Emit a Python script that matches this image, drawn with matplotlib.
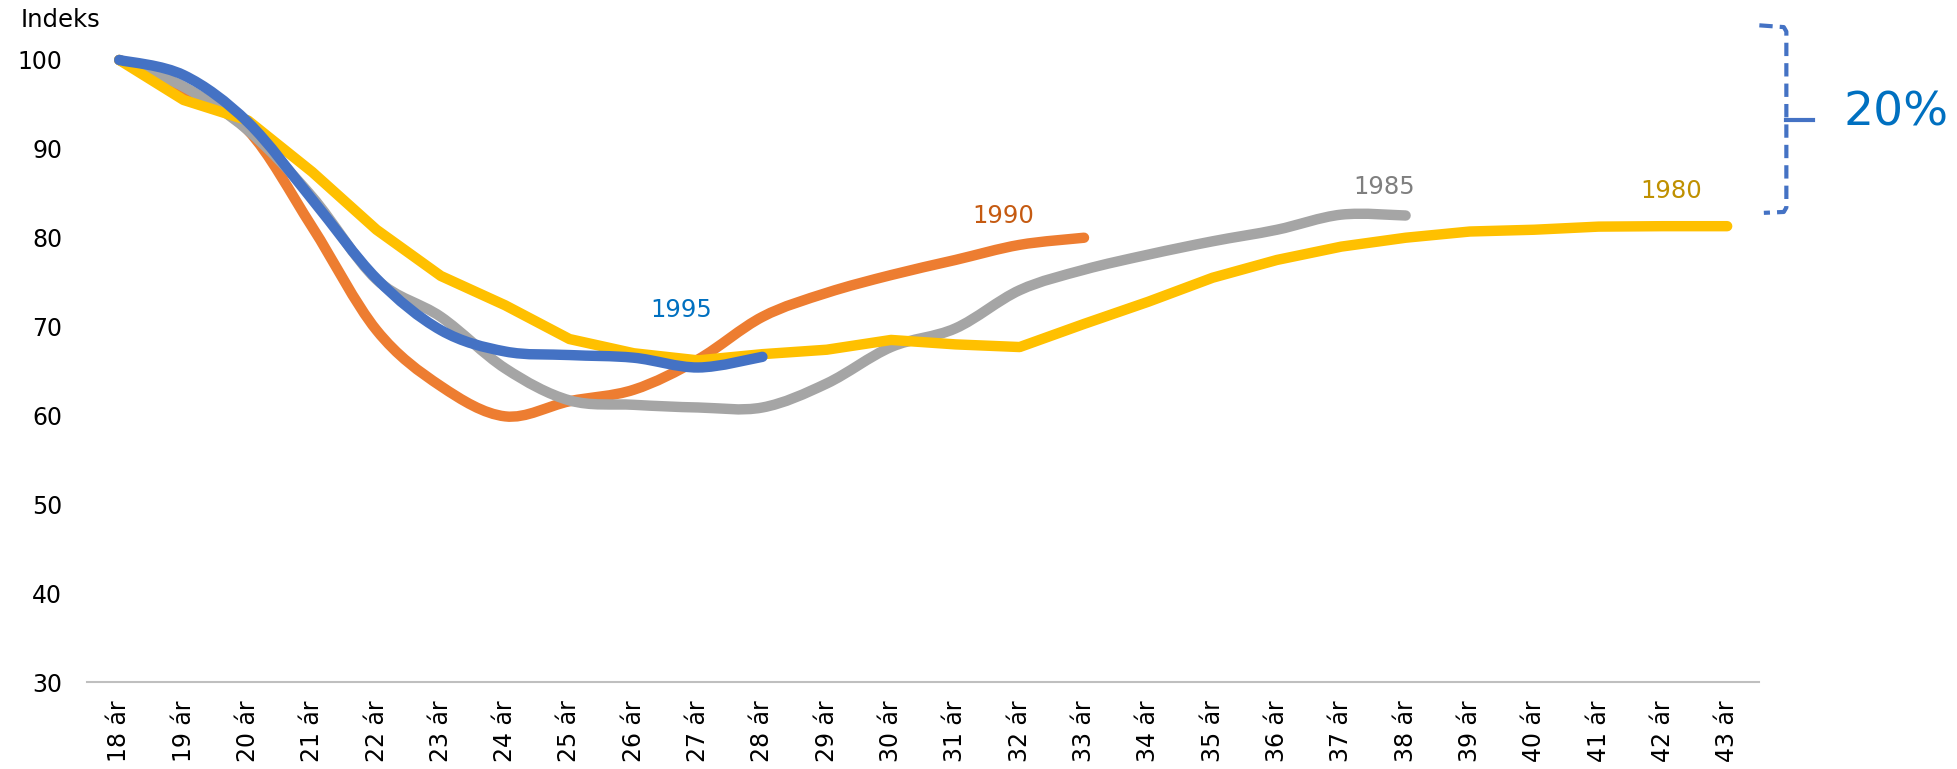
import numpy as np
import matplotlib.pyplot as plt
from matplotlib.path import Path
from matplotlib.patches import PathPatch

plt.rcParams['font.family'] = ['DejaVu Sans']

ages = [f"{a} ár" for a in range(18, 44)]

y1980 = [100, 95.5, 93.2, 87.4, 80.9, 75.7, 72.4, 68.6, 67.0, 66.2, 66.9, 67.4, 68.5,
         68.0, 67.7, 70.3, 72.8, 75.5, 77.5, 79.0, 80.0, 80.7, 80.9, 81.25, 81.3, 81.3]
y1985 = [100, 97.0, 92.1, 84.6, 75.3, 71.1, 65.3, 61.7, 61.2, 60.9, 60.9, 63.6, 67.7,
         69.8, 74.1, 76.4, 78.1, 79.6, 80.9, 82.6, 82.5]
y1990 = [100, 96.5, 92.1, 81.2, 69.6, 63.3, 59.9, 61.6, 62.9, 66.3, 71.1, 73.8, 75.8,
         77.5, 79.2, 80.0]
y1995 = [100, 98.3, 93.0, 84.3, 75.4, 69.6, 67.2, 66.8, 66.5, 65.4, 66.6]

# name, values, line colour, label colour, label position, smoothed
series = [
    ("1990", y1990, "#ED7D31", "#C55A11", (13.74, 82.5), True),
    ("1985", y1985, "#A5A5A5", "#7F7F7F", (19.66, 85.7), True),
    ("1980", y1980, "#FFC000", "#BF9000", (24.13, 85.3), False),
    ("1995", y1995, "#4472C4", "#0070C0", (8.74, 71.9), True),
]


def line_path(ys, smooth):
    pts = np.column_stack([np.arange(len(ys)), ys]).astype(float)
    if not smooth:
        return Path(pts)
    # cubic bezier through the points (like Excel's smoothed line)
    verts = [pts[0]]
    codes = [Path.MOVETO]
    n = len(pts)
    for i in range(n - 1):
        p0 = pts[max(i - 1, 0)]
        p1 = pts[i]
        p2 = pts[i + 1]
        p3 = pts[min(i + 2, n - 1)]
        verts += [p1 + (p2 - p0) / 6, p2 - (p3 - p1) / 6, p2]
        codes += [Path.CURVE4] * 3
    return Path(verts, codes)


fig = plt.figure(figsize=(19.57, 7.69), dpi=100)
ax = fig.add_axes([0.0445, 0.113, 0.8545, 0.809])

for name, ys, col, tcol, (tx, ty), smooth in series:
    patch = PathPatch(line_path(ys, smooth), facecolor="none", edgecolor=col, lw=7.5,
                      capstyle="round", joinstyle="round", clip_on=False)
    ax.add_patch(patch)
    ax.text(tx, ty, name, color=tcol, fontsize=17.5, ha="center", va="center")

ax.set_xlim(-0.5, 25.5)
ax.set_ylim(30, 100)
ax.set_xticks(range(len(ages)))
ax.set_xticklabels(ages, rotation=90, fontsize=17)
ax.set_yticks(range(30, 101, 10))
ax.tick_params(axis="y", length=0, pad=18, labelsize=17)
ax.tick_params(axis="x", length=0, pad=13)
for s in ["top", "right", "left"]:
    ax.spines[s].set_visible(False)
ax.spines["bottom"].set_color("#BFBFBF")
ax.spines["bottom"].set_linewidth(1.5)

fig.text(0.0105, 0.974, "Indeks", fontsize=17.5, va="center", ha="left")

# dashed bracket marking the 20% gap
bc = "#4472C4"
bx = 25.92
ax.plot([25.5, bx - 0.04, bx, bx, bx - 0.04, 25.57], [103.9, 103.7, 103.2, 83.4, 82.9, 82.8],
        color=bc, lw=3, ls=(0, (3.2, 1.7)), clip_on=False, solid_joinstyle="round")
ax.plot([bx, 26.34], [93.25, 93.25], color=bc, lw=3, clip_on=False)
fig.text(0.969, 0.853, "20%", color="#0070C0", fontsize=34, ha="center", va="center")

fig.savefig("out.png", dpi=100)
